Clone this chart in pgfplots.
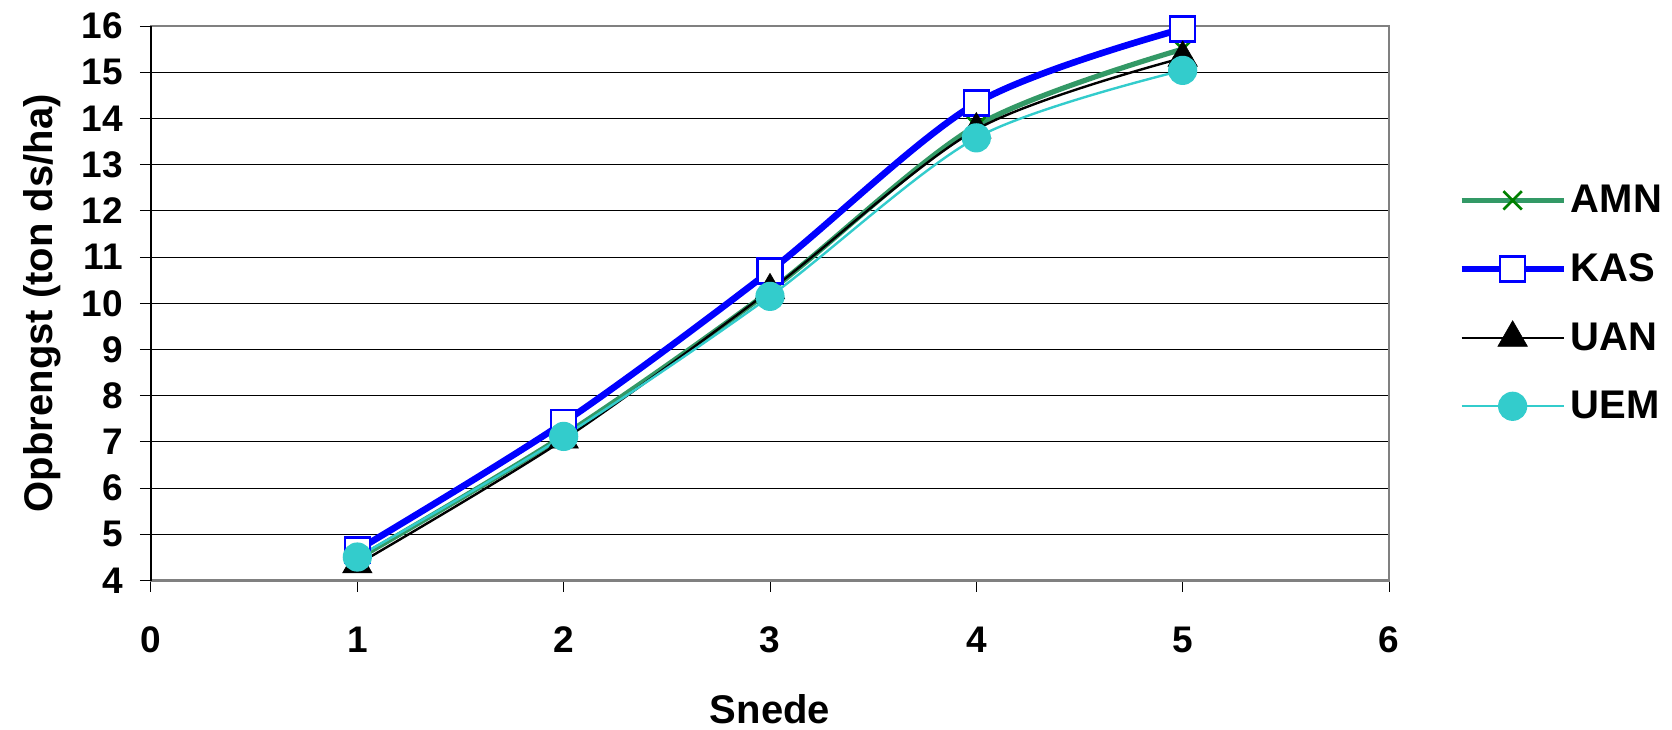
\documentclass[border=0pt]{standalone}
\usepackage{pgfplots}
\pgfplotsset{compat=1.18}
\usepackage{fontspec}
\setmainfont{Liberation Sans}
\definecolor{amn}{HTML}{339966}
\definecolor{amnmark}{HTML}{008000}
\definecolor{kas}{HTML}{0000FF}
\definecolor{uem}{HTML}{33CCCC}
\definecolor{frame}{HTML}{808080}
\begin{document}
\begin{tikzpicture}[font=\fontsize{18.5}{22}\selectfont\bfseries]
\path[use as bounding box] (-75.5pt,-74.2pt) rectangle (760.5pt,290.3pt);
\begin{axis}[
  at={(0,0)}, anchor=south west,
  scale only axis, width=619pt, height=277.3pt,
  xmin=0, xmax=6, ymin=4, ymax=16,
  xtick={0,1,2,3,4,5,6}, ytick={4,5,...,16},
  tick align=outside, major tick length=5.5pt,
  tick style={black, line width=0.5pt},
  xtick pos=bottom, ytick pos=left,
  /pgf/number format/assume math mode=true,
  ymajorgrids, grid style={black, line width=0.5pt},
  axis line style={frame, line width=1.2pt},
  clip=false,
  xticklabel style={font=\fontsize{18.5}{22}\selectfont\bfseries, yshift=-14pt},
  yticklabel style={font=\fontsize{18.5}{22}\selectfont\bfseries, xshift=-5pt},
  xlabel={Snede}, ylabel={Opbrengst (ton ds/ha)},
  xlabel style={at={(axis description cs:0.5,-0.2315)}, anchor=center, font=\fontsize{20}{24}\selectfont\bfseries},
  ylabel style={at={(axis description cs:-0.088,0.5)}, anchor=center, font=\fontsize{20}{24}\selectfont\bfseries},
  legend style={draw=none, fill=none, at={(axis description cs:1.0557,0.5)}, anchor=west,
    font=\fontsize{20}{24}\selectfont\bfseries, row sep=15pt, inner sep=0pt,
    nodes={inner sep=2pt}},
  legend cell align=left,
  legend image code/.code={\draw[mark repeat=2, mark phase=2] plot coordinates {(0pt,0pt) (25.5pt,0pt) (51pt,0pt)};},
]
\draw[black, line width=0.6pt] (rel axis cs:0,0) -- (rel axis cs:0,1);
\addplot[amn, line width=2.6pt, smooth, mark=x, mark size=6.5pt, mark options={amnmark, line width=1.3pt}]
  coordinates {(1,4.47) (2,7.14) (3,10.27) (4,13.84) (5,15.5)};
\addlegendentry{AMN}
\addplot[kas, line width=3.3pt, smooth, mark=square*, mark size=6.25pt, mark options={draw=kas, fill=white, line width=1.3pt}]
  coordinates {(1,4.66) (2,7.42) (3,10.70) (4,14.33) (5,15.94)};
\addlegendentry{KAS}
\addplot[black, line width=1.2pt, smooth, mark=triangle*, mark size=8.5pt, mark options={black, fill=black, line width=0.3pt}]
  coordinates {(1,4.35) (2,7.05) (3,10.28) (4,13.76) (5,15.31)};
\addlegendentry{UAN}
\addplot[uem, line width=1.2pt, smooth, mark=*, mark size=6.7pt, mark options={draw=uem, fill=uem}]
  coordinates {(1,4.51) (2,7.12) (3,10.15) (4,13.58) (5,15.04)};
\addlegendentry{UEM}
\end{axis}
\end{tikzpicture}
\end{document}
